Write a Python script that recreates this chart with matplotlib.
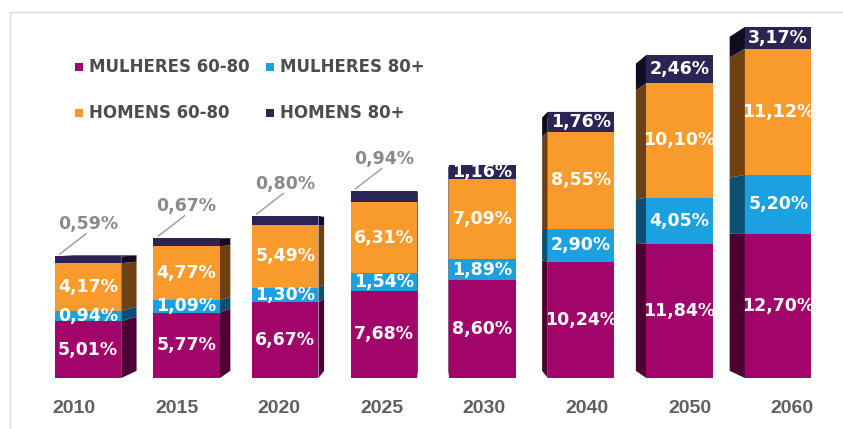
import numpy as np
import matplotlib.pyplot as plt
from matplotlib.patches import Polygon, Rectangle
from matplotlib.lines import Line2D

years = ["2010", "2015", "2020", "2025", "2030", "2040", "2050", "2060"]
mulheres_60_80 = [5.01, 5.77, 6.67, 7.68, 8.60, 10.24, 11.84, 12.70]
mulheres_80 = [0.94, 1.09, 1.30, 1.54, 1.89, 2.90, 4.05, 5.20]
homens_60_80 = [4.17, 4.77, 5.49, 6.31, 7.09, 8.55, 10.10, 11.12]
homens_80 = [0.59, 0.67, 0.80, 0.94, 1.16, 1.76, 2.46, 3.17]

series = [mulheres_60_80, mulheres_80, homens_60_80, homens_80]
names = ["MULHERES 60-80", "MULHERES 80+", "HOMENS 60-80", "HOMENS 80+"]
front_colors = ["#A1056A", "#1BA0E0", "#F89B2C", "#2C2452"]
side_colors = ["#4E0033", "#0B4F73", "#6E4012", "#120C20"]

W, H = 843, 429
fig = plt.figure(figsize=(8.43, 4.29), dpi=100)
# plot area ends at the top of the tallest bar (it gets clipped there)
ax = fig.add_axes([0, 0, 1, (H - 27) / H])
ymin, ymax = -4.49, 30.93
ax.set_xlim(-0.8925, 7.657)
ax.set_ylim(ymin, ymax)
ax.axis("off")

x = np.arange(len(years))
w = 0.675
# perspective: back edges shrink toward a vanishing point
vx, vy, s = 3.5, 12.95, 0.951


def back(px, py):
    return vx + (px - vx) * s, vy + (py - vy) * s


def fmt(v):
    return f"{v:.2f}%".replace(".", ",")


bottom = np.zeros(len(years))
for j, vals in enumerate(series):
    vals = np.array(vals)
    for i in range(len(years)):
        y0 = min(bottom[i], ymax)
        y1 = min(bottom[i] + vals[i], ymax)
        if i <= 3:
            xe = x[i] + w / 2
        else:
            xe = x[i] - w / 2
        bx0, by0 = back(xe, y0)
        bx1, by1 = back(xe, y1)
        ax.add_patch(Polygon([(xe, y0), (xe, y1), (bx1, by1), (bx0, by0)],
                             closed=True, facecolor=side_colors[j],
                             edgecolor="none", zorder=2))
        if j == len(series) - 1:
            xl, xr = x[i] - w / 2, x[i] + w / 2
            tl, tr = back(xl, y1), back(xr, y1)
            ax.add_patch(Polygon([(xl, y1), (xr, y1), tr, tl], closed=True,
                                 facecolor="#3A2E60", edgecolor="none",
                                 zorder=1))
    ax.bar(x, vals, w, bottom=bottom, color=front_colors[j], zorder=3,
           linewidth=0)
    for i in range(len(years)):
        top = bottom[i] + vals[i]
        if j == 3 and i <= 3:
            ax.text(x[i], top + 2.85, fmt(vals[i]), ha="center", va="center",
                    color="#8A8A8A", fontsize=12.5, fontweight="bold",
                    zorder=5)
            ax.plot([x[i] - w / 2 + 0.05, x[i] - 0.02],
                    [top + 0.2, top + 2.0], color="#9A9A9A", lw=1, zorder=5)
        else:
            mid = (bottom[i] + min(top, ymax)) / 2
            ax.text(x[i], mid, fmt(vals[i]), ha="center",
                    va="center", color="white", fontsize=12.5,
                    fontweight="bold", zorder=5)
    bottom += vals

# year labels spread slightly on the floor
for i, yr in enumerate(years):
    lx = x[i] + 0.04 * (x[i] - 3) - 0.02
    ax.text(lx, -2.64, yr, ha="center", va="center", color="#5F5F5F",
            fontsize=14, fontweight="bold", family="Liberation Sans")

# legend
leg = [(0, 75, 67), (1, 266, 67), (2, 75, 113), (3, 266, 113)]
for j, px, py in leg:
    fig.add_artist(Rectangle((px / W, (H - py - 4) / H), 8 / W, 8 / H,
                             transform=fig.transFigure,
                             facecolor=front_colors[j], edgecolor="none"))
    fig.text((px + 14) / W, (H - py) / H, names[j], ha="left", va="center",
             color="#4D4D4D", fontsize=12, fontweight="bold")

# frame lines
fig.add_artist(Line2D([10 / W, 1], [1 - 12 / H, 1 - 12 / H],
                      transform=fig.transFigure, color="#DADADA", lw=1))
fig.add_artist(Line2D([10 / W, 10 / W], [0, 1 - 12 / H],
                      transform=fig.transFigure, color="#DADADA", lw=1))

fig.savefig("out.png", dpi=100)
